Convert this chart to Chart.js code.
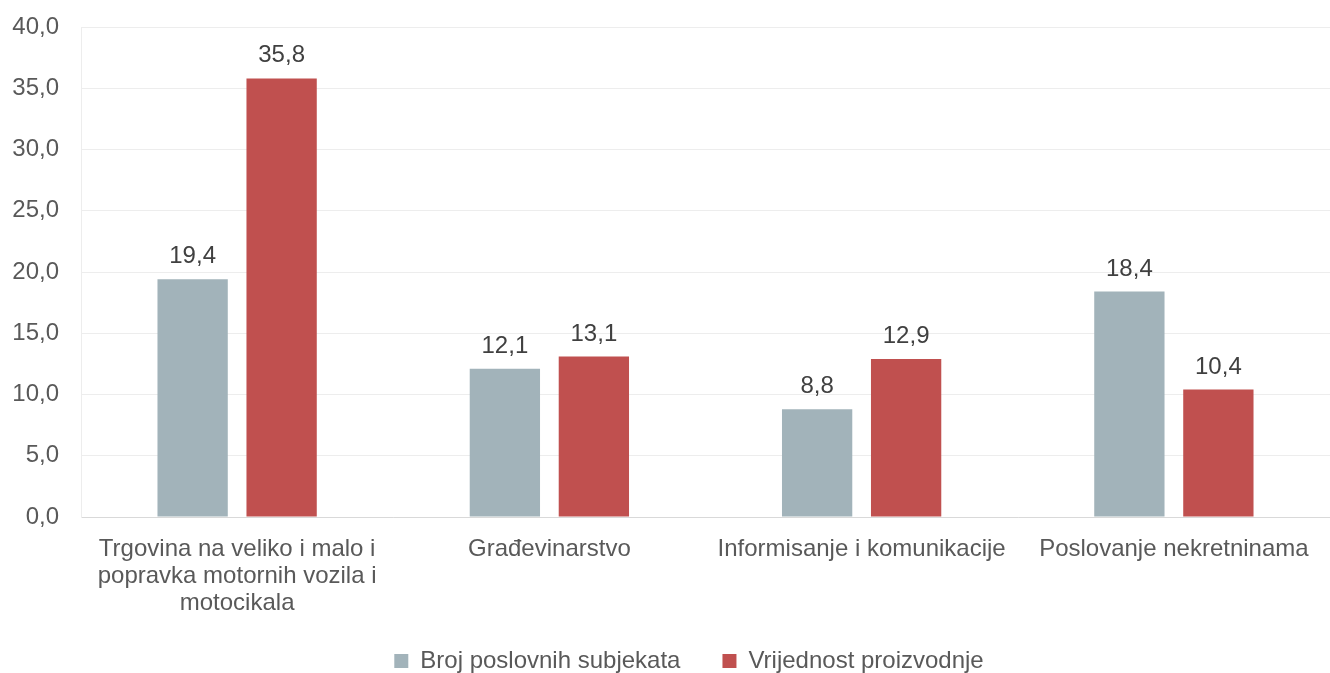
<!DOCTYPE html>
<html>
<head>
<meta charset="utf-8">
<script src="https://cdn.jsdelivr.net/npm/chart.js@4/dist/chart.umd.min.js"></script>
<style>
  html, body { margin: 0; padding: 0; background: #fff; }
  #wrap { width: 1330px; height: 673px; }
</style>
</head>
<body>
<div id="wrap"><canvas id="chart"></canvas></div>
<script>
const categories = [
  ["Trgovina na veliko i malo i", "popravka motornih vozila i", "motocikala"],
  "Građevinarstvo",
  "Informisanje i komunikacije",
  "Poslovanje nekretninama"
];
const brojSubjekata = [19.4, 12.1, 8.8, 18.4];
const vrijednostProizvodnje = [35.8, 13.1, 12.9, 10.4];
const seriesNames = ["Broj poslovnih subjekata", "Vrijednost proizvodnje"];

const fmt = v => v.toFixed(1).replace(".", ",");
const FS = 24;

// labels above each bar
const valueLabels = {
  id: "valueLabels",
  afterDatasetsDraw(chart) {
    const ctx = chart.ctx;
    ctx.save();
    ctx.font = FS + "px 'Liberation Sans', Arial, sans-serif";
    ctx.fillStyle = "#404040";
    ctx.textAlign = "center";
    ctx.textBaseline = "alphabetic";
    chart.data.datasets.forEach((ds, i) => {
      chart.getDatasetMeta(i).data.forEach((bar, j) => {
        ctx.fillText(fmt(ds.data[j]), bar.x, bar.y - 16);
      });
    });
    ctx.restore();
  }
};

// the legend reserves some extra room below; trim it and nudge it right
const legendFit = {
  id: "legendFit",
  beforeInit(chart) {
    const lg = chart.legend;
    const fit = lg.fit;
    lg.fit = function () {
      fit.call(this);
      this.height -= 10;
    };
    const draw = lg.draw;
    lg.draw = function () {
      this.ctx.save();
      this.ctx.translate(24, 0);
      draw.call(this);
      this.ctx.restore();
    };
  }
};

Chart.defaults.font.family = "'Liberation Sans', Arial, sans-serif";
Chart.defaults.color = "#595959";

new Chart(document.getElementById("chart"), {
  type: "bar",
  data: {
    labels: categories,
    datasets: [
      {
        label: seriesNames[0],
        data: brojSubjekata,
        backgroundColor: "#A2B3BA",
        barPercentage: 0.79,
        categoryPercentage: 0.57
      },
      {
        label: seriesNames[1],
        data: vrijednostProizvodnje,
        backgroundColor: "#C0504F",
        barPercentage: 0.79,
        categoryPercentage: 0.57
      }
    ]
  },
  options: {
    responsive: true,
    maintainAspectRatio: false,
    animation: false,
    layout: { padding: { top: 0, right: 0, left: 0, bottom: 0 } },
    plugins: {
      legend: {
        position: "bottom",
        labels: {
          font: { size: FS },
          color: "#595959",
          boxWidth: 14,
          boxHeight: 14,
          padding: 2,
          generateLabels: chart => {
            const items = Chart.defaults.plugins.legend.labels.generateLabels(chart);
            items[0].text += "      ";
            return items;
          }
        }
      },
      tooltip: { enabled: false }
    },
    scales: {
      x: {
        afterFit: scale => { scale.height = 130; },
        grid: { display: false },
        border: { color: "#D9D9D9", width: 1 },
        ticks: {
          font: { size: FS, lineHeight: 1.125 },
          color: "#595959",
          maxRotation: 0,
          autoSkip: false,
          padding: 11
        }
      },
      y: {
        min: 0,
        max: 40,
        afterFit: scale => { scale.width = 81; scale.paddingTop = 27; },
        ticks: {
          stepSize: 5,
          font: { size: FS },
          color: "#595959",
          padding: 22,
          callback: v => fmt(v)
        },
        grid: { color: "#EDEDED", drawTicks: false },
        border: { color: "#EDEDED" }
      }
    }
  },
  plugins: [valueLabels, legendFit]
});
</script>
</body>
</html>
